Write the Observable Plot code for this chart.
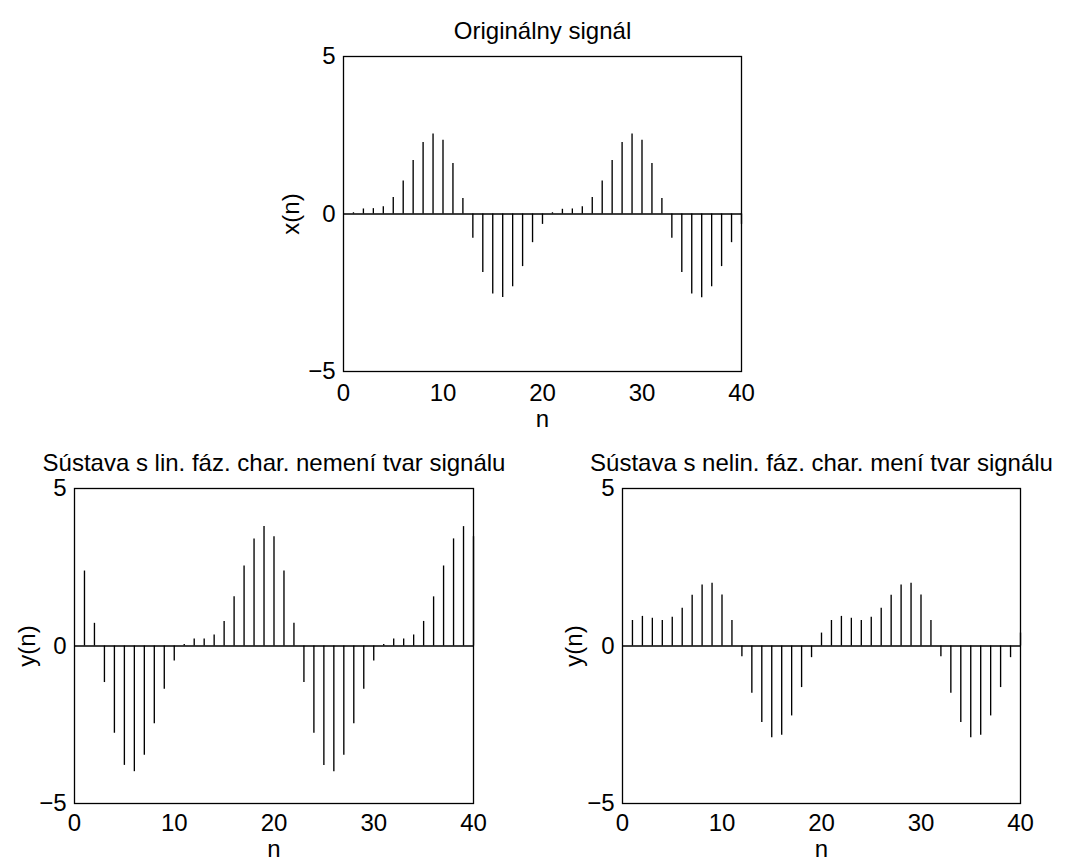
<!DOCTYPE html>
<html><head><meta charset="utf-8">
<script src="https://cdn.jsdelivr.net/npm/d3@7"></script>
<script src="https://cdn.jsdelivr.net/npm/@observablehq/plot@0.6"></script>
<style>
body{margin:0;background:#fff;}
#wrap{position:relative;width:1072px;height:862px;overflow:hidden;background:#fff;}
#wrap svg{position:absolute;}
</style></head><body><div id="wrap"></div>
<script>
// tick values
const nTicks = [0, 10, 20, 30, 40];
const yTicks = [-5, 0, 5];

// sample values, n = 1..40
const xOriginal = [0.04, 0.16, 0.17, 0.23, 0.52, 1.05, 1.70, 2.27, 2.54, 2.34, 1.60, 0.49, -0.77, -1.86, -2.54, -2.65, -2.31, -1.67, -0.91, -0.33,
                   0.04, 0.15, 0.16, 0.23, 0.52, 1.05, 1.70, 2.27, 2.54, 2.34, 1.60, 0.49, -0.77, -1.86, -2.54, -2.66, -2.31, -1.67, -0.91, -0.33];
const yLinear = [2.38, 0.72, -1.16, -2.77, -3.79, -3.99, -3.47, -2.47, -1.37, -0.48, 0.05, 0.22, 0.22, 0.35, 0.78, 1.56, 2.54, 3.40, 3.79, 3.47,
                 2.38, 0.72, -1.16, -2.77, -3.79, -3.99, -3.47, -2.47, -1.37, -0.48, 0.05, 0.22, 0.22, 0.35, 0.78, 1.56, 2.54, 3.40, 3.79, 3.47];
const yNonlinear = [0.81, 0.94, 0.88, 0.81, 0.91, 1.20, 1.61, 1.94, 1.99, 1.62, 0.81, -0.34, -1.50, -2.43, -2.91, -2.83, -2.22, -1.32, -0.37, 0.41,
                    0.81, 0.94, 0.88, 0.81, 0.91, 1.20, 1.61, 1.94, 1.99, 1.62, 0.81, -0.34, -1.50, -2.43, -2.91, -2.83, -2.22, -1.32, -0.37, 0.41];

const titles = ["Originálny signál", "Sústava s lin. fáz. char. nemení tvar signálu", "Sústava s nelin. fáz. char. mení tvar signálu"];
const yLabels = ["x(n)", "y(n)", "y(n)"];
const xLabel = "n";

const FONT = "'Liberation Sans', Arial, Helvetica, sans-serif";
const FS = 24;
const fmt = d => d < 0 ? "\u2212" + Math.abs(d) : String(d);

function panel(values, title, ylabel, box, ylabDx, nDy, xPad) {
  const [fx, fy, fw, fh] = box;
  const ml = 75, mr = 60, mt = 50, mb = 58;
  const data = values.map((v, i) => ({n: i + 1, v}));
  const svg = Plot.plot({
    width: ml + fw + mr,
    height: mt + fh + mb,
    marginLeft: ml, marginRight: mr, marginTop: mt, marginBottom: mb,
    style: {background: "transparent", overflow: "visible", fontFamily: FONT, fontSize: FS + "px", color: "black"},
    x: {domain: [0, 40], nice: false, ticks: nTicks, tickSize: 0, tickPadding: xPad, tickFormat: fmt, label: null},
    y: {domain: [-5, 5], nice: false, ticks: yTicks, tickSize: 0, tickPadding: 8, tickFormat: fmt, label: null},
    marks: [
      Plot.ruleY([0], {stroke: "black", strokeWidth: 1.6}),
      Plot.ruleX(data, {x: "n", y1: 0, y2: "v", stroke: "black", strokeWidth: 1.35}),
      Plot.frame({stroke: "black", strokeWidth: 1.3}),
      Plot.text([title], {frameAnchor: "top", dy: -25, lineAnchor: "middle", fontSize: FS, fill: "black"}),
      Plot.text([xLabel], {frameAnchor: "bottom", dy: nDy, lineAnchor: "middle", fontSize: FS, fill: "black"}),
      Plot.text([ylabel], {frameAnchor: "left", dx: ylabDx, rotate: -90, lineAnchor: "middle", textAnchor: "middle", fontSize: FS, fill: "black"})
    ]
  });
  svg.style.left = (fx - ml) + "px";
  svg.style.top = (fy - mt) + "px";
  document.getElementById("wrap").appendChild(svg);
}

panel(xOriginal, titles[0], yLabels[0], [343, 56, 398, 315], -52, 48, 12);
panel(yLinear, titles[1], yLabels[1], [74, 488, 399, 315], -47, 46, 10);
panel(yNonlinear, titles[2], yLabels[2], [622, 488, 398, 315], -48, 46, 10);
</script>
</body></html>
